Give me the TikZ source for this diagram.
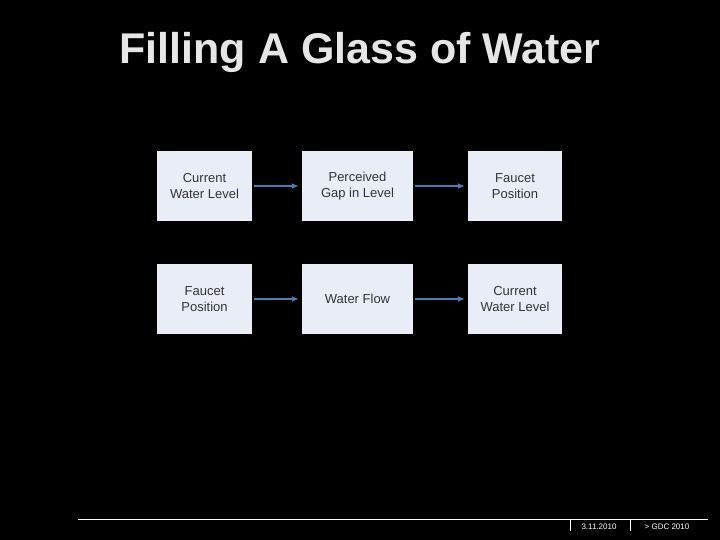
\documentclass[tikz,border=0pt]{standalone}
\usepackage{fontspec}
\setmainfont{Liberation Sans}
\begin{document}
\begin{tikzpicture}[x=1pt,y=-1pt,
 box/.style={fill=boxfill,draw=none,align=center,text=boxtext,font=\fontsize{13}{16}\selectfont,inner sep=0pt},
 arr/.style={draw=arrblue,line width=1.5pt,-{Latex[length=7pt,width=6pt]}}]
\usetikzlibrary{arrows.meta}
\definecolor{boxfill}{HTML}{E9EEF6}
\definecolor{boxtext}{HTML}{333333}
\definecolor{arrblue}{HTML}{4A7EBB}
\definecolor{titlegray}{HTML}{E6E6E6}
\fill[black] (0,0) rectangle (720,540);
\useasboundingbox (0,0) rectangle (720,540);
\node[titlegray,font=\bfseries\fontsize{43}{48}\selectfont] (title) at (360,52) {Filling A Glass of Water};
\node[box,minimum width=95pt,minimum height=70pt] (a1) at (204.5,186) {Current\\Water Level};
\node[box,minimum width=111pt,minimum height=70pt] (a2) at (357.5,186) {Perceived\\Gap in Level};
\node[box,minimum width=94pt,minimum height=70pt] (a3) at (515,186) {Faucet\\Position};
\node[box,minimum width=95pt,minimum height=70pt] (b1) at (204.5,299) {Faucet\\Position};
\node[box,minimum width=111pt,minimum height=70pt] (b2) at (357.5,299) {Water Flow};
\node[box,minimum width=94pt,minimum height=70pt] (b3) at (515,299) {Current\\Water Level};
\draw[arr] ([xshift=2pt]a1.east) -- ([xshift=-3pt]a2.west);
\draw[arr] ([xshift=2pt]a2.east) -- ([xshift=-3pt]a3.west);
\draw[arr] ([xshift=2pt]b1.east) -- ([xshift=-3pt]b2.west);
\draw[arr] ([xshift=2pt]b2.east) -- ([xshift=-3pt]b3.west);
\coordinate (l1) at (78,519); \coordinate (l2) at (708,519);
\draw[white,line width=0.8pt] (l1) -- (l2);
\coordinate (t1) at (570,519); \coordinate (t1b) at (570,531);
\coordinate (t2) at (630,519); \coordinate (t2b) at (630,531);
\draw[white,line width=0.8pt] (t1) -- (t1b) (t2) -- (t2b);
\node[white,font=\fontsize{8}{9}\selectfont] (d) at (599,527) {3.11.2010};
\node[white,font=\fontsize{8}{9}\selectfont] (g) at (667,527) {> GDC 2010};
\end{tikzpicture}
\end{document}
